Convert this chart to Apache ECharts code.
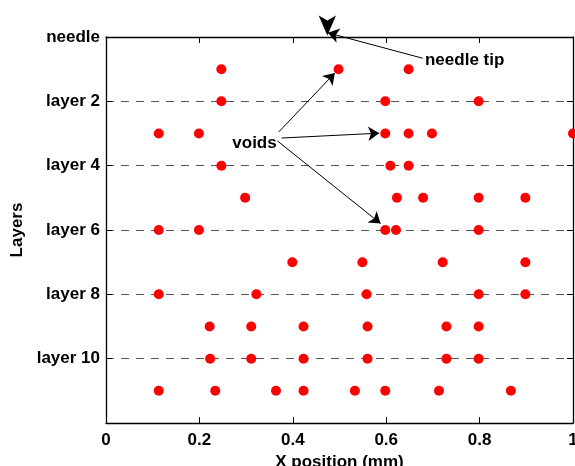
<!DOCTYPE html>
<html>
<head>
<meta charset="utf-8">
<script src="https://cdn.jsdelivr.net/npm/echarts@6/dist/echarts.min.js"></script>
<style>
html,body{margin:0;padding:0;background:#fff;}
#chart{width:575px;height:466px;}
</style>
</head>
<body>
<div id="chart"></div>
<script>
// void x positions (mm), one array per layer row (row 1 = just below needle)
const row1  = [0.247, 0.498, 0.648];
const row2  = [0.247, 0.598, 0.798];
const row3  = [0.113, 0.199, 0.598, 0.648, 0.698, 1.0];
const row4  = [0.247, 0.609, 0.648];
const row5  = [0.298, 0.623, 0.679, 0.798, 0.898];
const row6  = [0.113, 0.199, 0.598, 0.621, 0.798];
const row7  = [0.399, 0.549, 0.721, 0.898];
const row8  = [0.113, 0.322, 0.558, 0.798, 0.898];
const row9  = [0.222, 0.311, 0.423, 0.560, 0.729, 0.798];
const row10 = [0.223, 0.311, 0.423, 0.560, 0.729, 0.798];
const row11 = [0.113, 0.234, 0.364, 0.423, 0.533, 0.598, 0.713, 0.867];
const rows = [row1, row2, row3, row4, row5, row6, row7, row8, row9, row10, row11];

const yTickLabels = ['needle', 'layer 2', 'layer 4', 'layer 6', 'layer 8', 'layer 10', ''];
const xTickLabels = ['0', '0.2', '0.4', '0.6', '0.8', '1'];

// annotation arrows: [from, to] in data coords
const arrows = [
  [[0.370, 2.95], [0.490, 1.12]],
  [[0.376, 3.14], [0.585, 2.99]],
  [[0.367, 3.23], [0.588, 5.80]],
  [[0.678, 0.66], [0.475, -0.13]]
];
const tipMarker = [0.474, -0.05];
const voidsLabel = [0.318, 3.30];
const tipLabel = [0.768, 0.72];

const font = 'Liberation Sans, Arial, sans-serif';

let points = [];
for (let i = 0; i < rows.length; i++) {
  for (let j = 0; j < rows[i].length; j++) {
    points.push([rows[i][j], i + 1]);
  }
}

const tickStyle = {show: true, inside: true, length: 6, lineStyle: {color: '#000', width: 1}};
const lineStyle = {show: true, onZero: false, lineStyle: {color: '#000', width: 1.3}};
const labelFont = {fontFamily: font, fontWeight: 'bold', fontSize: 17, color: '#000'};

const chart = echarts.init(document.getElementById('chart'));
const option = {
  animation: false,
  grid: {
    left: 106, right: 2, top: 37, bottom: 43,
    containLabel: false, outerBoundsMode: 'none'
  },
  xAxis: [{
    type: 'value', position: 'bottom', min: 0, max: 1, interval: 0.2,
    name: 'X position (mm)', nameLocation: 'middle', nameGap: 28,
    nameTextStyle: labelFont,
    axisLine: lineStyle,
    axisTick: tickStyle,
    axisLabel: Object.assign({margin: 9, formatter: (v) => xTickLabels[Math.round(v / 0.2)]}, labelFont),
    splitLine: {show: false}
  }, {
    type: 'value', position: 'top', min: 0, max: 1, interval: 0.2,
    axisLine: lineStyle,
    axisTick: tickStyle,
    axisLabel: {show: false},
    splitLine: {show: false}
  }],
  yAxis: [{
    type: 'value', position: 'left', inverse: true, min: 0, max: 12, interval: 2,
    name: 'Layers', nameLocation: 'middle', nameGap: 80, nameRotate: 90,
    nameTextStyle: labelFont,
    axisLine: lineStyle,
    axisTick: tickStyle,
    axisLabel: Object.assign({margin: 6, formatter: (v) => yTickLabels[Math.round(v / 2)]}, labelFont),
    splitLine: {show: true, lineStyle: {color: '#555', width: 1, type: [8, 7]}}
  }, {
    type: 'value', position: 'right', inverse: true, min: 0, max: 12, interval: 2,
    axisLine: lineStyle,
    axisTick: tickStyle,
    axisLabel: {show: false},
    splitLine: {show: false}
  }],
  series: [{
    type: 'scatter',
    data: points,
    symbol: 'circle',
    symbolSize: 10,
    clip: false,
    itemStyle: {color: '#ff0000', opacity: 1}
  }, {
    type: 'lines',
    coordinateSystem: 'cartesian2d',
    silent: true,
    clip: false,
    symbol: ['none', 'arrow'],
    symbolSize: [8, 11],
    lineStyle: {color: '#000', width: 1, opacity: 1},
    data: arrows.map(a => ({coords: a}))
  }, {
    type: 'scatter',
    silent: true,
    clip: false,
    data: [tipMarker],
    symbol: 'arrow',
    symbolSize: [13, 20],
    symbolRotate: 180,
    itemStyle: {color: '#000', opacity: 1}
  }, {
    type: 'scatter',
    silent: true,
    clip: false,
    symbolSize: 0,
    itemStyle: {opacity: 1},
    data: [
      {value: voidsLabel, label: {formatter: 'voids'}},
      {value: tipLabel, label: {formatter: 'needle tip'}}
    ],
    label: Object.assign({show: true, position: 'inside'}, labelFont)
  }]
};
chart.setOption(option);
</script>
</body>
</html>
